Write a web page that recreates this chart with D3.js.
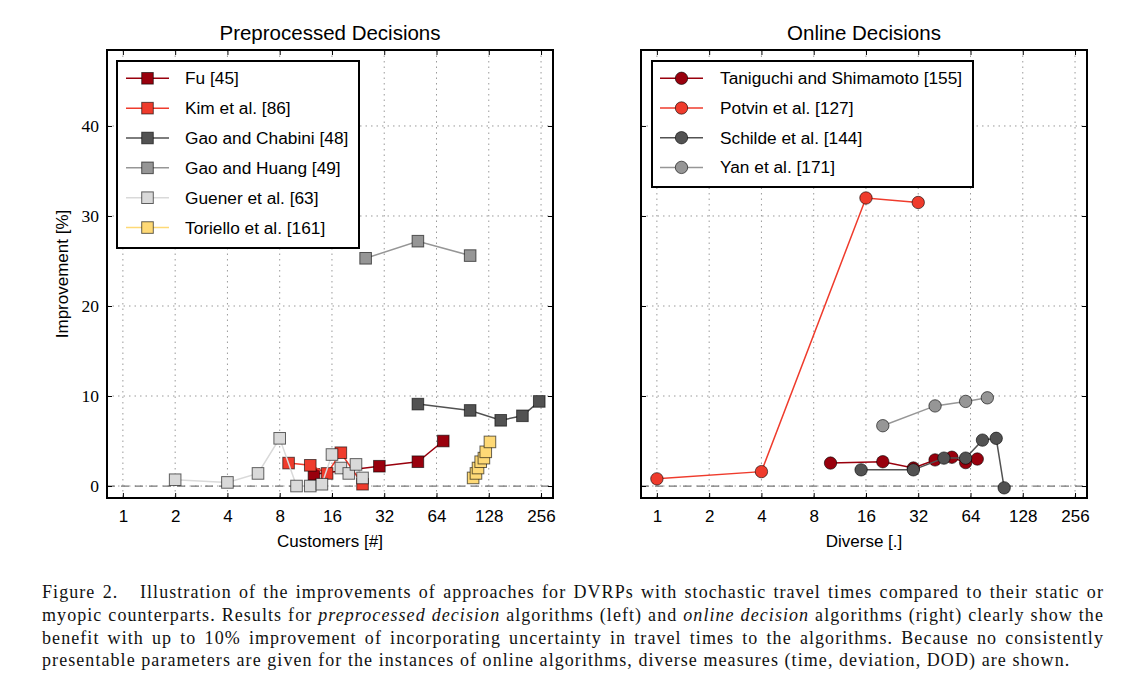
<!DOCTYPE html>
<html>
<head>
<meta charset="utf-8">
<script src="https://cdn.jsdelivr.net/npm/d3@7/dist/d3.min.js"></script>
<style>
  html, body { margin: 0; padding: 0; background: #fff; }
  #wrap { position: relative; width: 1140px; height: 683px; overflow: hidden; }
  svg { position: absolute; left: 0; top: 0; }
  #caption { position: absolute; left: 42px; top: 581px; width: 1062px;
    font-family: "Liberation Serif", "DejaVu Serif", serif; font-size: 18px; letter-spacing: 1.07px; color: #111; }
  #caption div { white-space: nowrap; text-align: justify; text-align-last: justify; line-height: 22.8px; }
  #caption div.last { text-align-last: left; }
</style>
</head>
<body>
<div id="wrap">
<svg id="chart" width="1140" height="683"></svg>
<div id="caption"></div>
</div>
<script>
// ---------- data ----------
const xTicks = [1, 2, 4, 8, 16, 32, 64, 128, 256];
const yTicks = [0, 10, 20, 30, 40];

// Preprocessed decisions
const fuX = [12.6, 30, 50, 70];
const fuY = [1.3, 2.2, 2.7, 5.0];
const kimX = [9, 12, 15, 18, 24];
const kimY = [2.55, 2.3, 1.4, 3.7, 0.2];
const chabiniX = [50, 100, 150, 200, 250];
const chabiniY = [9.1, 8.4, 7.3, 7.8, 9.4];
const huangX = [25, 50, 100];
const huangY = [25.3, 27.2, 25.6];
const guenerX = [2, 4, 6, 8, 10, 12, 14, 16, 18, 20, 22, 24];
const guenerY = [0.7, 0.4, 1.4, 5.3, 0.0, 0.0, 0.2, 3.5, 2.0, 1.4, 2.4, 0.9];
const torielloX = [104, 108, 111, 115, 120, 123, 130];
const torielloY = [0.9, 1.4, 2.0, 2.7, 3.1, 3.8, 4.9];

// Online decisions
const taniX = [10, 20, 30, 40, 50, 60, 70];
const taniY = [2.55, 2.7, 2.0, 2.9, 3.2, 2.6, 3.0];
const potvinX = [1, 4, 16, 32];
const potvinY = [0.8, 1.6, 32.0, 31.5];
const schildeX = [15, 30, 45, 60, 75, 90, 100];
const schildeY = [1.8, 1.8, 3.1, 3.1, 5.1, 5.3, -0.2];
const yanX = [20, 40, 60, 80];
const yanY = [6.7, 8.9, 9.4, 9.8];

const leftSeries = [
  {name: "Fu [45]", color: "#99000d", xs: fuX, ys: fuY},
  {name: "Kim et al. [86]", color: "#ef3b2c", xs: kimX, ys: kimY},
  {name: "Gao and Chabini [48]", color: "#525252", xs: chabiniX, ys: chabiniY},
  {name: "Gao and Huang [49]", color: "#969696", xs: huangX, ys: huangY},
  {name: "Guener et al. [63]", color: "#d9d9d9", xs: guenerX, ys: guenerY},
  {name: "Toriello et al. [161]", color: "#fed976", xs: torielloX, ys: torielloY}
];
const rightSeries = [
  {name: "Taniguchi and Shimamoto [155]", color: "#99000d", xs: taniX, ys: taniY},
  {name: "Potvin et al. [127]", color: "#ef3b2c", xs: potvinX, ys: potvinY},
  {name: "Schilde et al. [144]", color: "#525252", xs: schildeX, ys: schildeY},
  {name: "Yan et al. [171]", color: "#969696", xs: yanX, ys: yanY}
];

const captionLines = [
  "Figure 2.&nbsp;&nbsp; Illustration of the improvements of approaches for DVRPs with stochastic travel times compared to their static or",
  "myopic counterparts. Results for <i>preprocessed decision</i> algorithms (left) and <i>online decision</i> algorithms (right) clearly show the",
  "benefit with up to 10% improvement of incorporating uncertainty in travel times to the algorithms. Because no consistently",
  "presentable parameters are given for the instances of online algorithms, diverse measures (time, deviation, DOD) are shown."
];

// ---------- drawing ----------
const svg = d3.select("#chart");
const SANS = "'Liberation Sans', Arial, Helvetica, sans-serif";
const SERIF = "'Liberation Serif', 'DejaVu Serif', serif";

function panel(opts) {
  const {x0, x1, y0, y1, series, title, xlabel, marker, showYLabels, legend} = opts;
  const x = d3.scaleLog().base(2).domain([0.81, 300]).range([x0, x1]);
  const y = d3.scaleLinear().domain([-1.33, 48.44]).range([y1, y0]);
  const g = svg.append("g");

  // grid
  g.selectAll(".gx").data(xTicks).enter().append("line")
    .attr("x1", d => x(d)).attr("x2", d => x(d)).attr("y1", y0).attr("y2", y1)
    .attr("stroke", "#9a9a9a").attr("stroke-width", 1).attr("stroke-dasharray", "1.5,4");
  g.selectAll(".gy").data(yTicks).enter().append("line")
    .attr("x1", x0).attr("x2", x1).attr("y1", d => y(d)).attr("y2", d => y(d))
    .attr("stroke", "#9a9a9a").attr("stroke-width", 1).attr("stroke-dasharray", "1.5,4");
  // zero line
  g.append("line").attr("x1", x0).attr("x2", x1).attr("y1", y(0)).attr("y2", y(0))
    .attr("stroke", "#777").attr("stroke-width", 1.2).attr("stroke-dasharray", "8,6");

  // axes via d3 axis (inward ticks)
  const bottom = g.append("g").attr("transform", `translate(0,${y1})`)
    .call(d3.axisBottom(x).tickValues(xTicks).tickFormat(d3.format("d")).tickSizeInner(-5).tickSizeOuter(0).tickPadding(12));
  const top = g.append("g").attr("transform", `translate(0,${y0})`)
    .call(d3.axisTop(x).tickValues(xTicks).tickFormat("").tickSizeInner(-5).tickSizeOuter(0));
  const left = g.append("g").attr("transform", `translate(${x0},0)`)
    .call(d3.axisLeft(y).tickValues(yTicks).tickFormat(showYLabels ? d3.format("d") : "").tickSizeInner(-5).tickSizeOuter(0).tickPadding(8));
  const right = g.append("g").attr("transform", `translate(${x1},0)`)
    .call(d3.axisRight(y).tickValues(yTicks).tickFormat("").tickSizeInner(-5).tickSizeOuter(0));
  [bottom, top, left, right].forEach(a => {
    a.select(".domain").remove();
    a.selectAll(".tick line").attr("stroke", "#000").attr("stroke-width", 1);
  });
  bottom.selectAll("text").attr("font-family", SANS).attr("font-size", 17).attr("fill", "#000");
  left.selectAll("text").attr("font-family", SERIF).attr("font-size", 17.5).attr("fill", "#000");

  // series
  const clip = "clip" + x0;
  svg.append("clipPath").attr("id", clip).append("rect")
    .attr("x", x0).attr("y", y0).attr("width", x1 - x0).attr("height", y1 - y0);
  const plot = g.append("g").attr("clip-path", `url(#${clip})`);
  const line = d3.line().x(d => x(d[0])).y(d => y(d[1]));
  series.forEach(s => {
    const pts = s.xs.map((v, i) => [v, s.ys[i]]);
    const sg = plot.append("g");
    sg.append("path").attr("d", line(pts)).attr("fill", "none")
      .attr("stroke", s.color).attr("stroke-width", 1.5);
    drawMarkers(sg, pts.map(p => [x(p[0]), y(p[1])]), s.color, marker);
  });

  // frame
  g.append("rect").attr("x", x0).attr("y", y0).attr("width", x1 - x0).attr("height", y1 - y0)
    .attr("fill", "none").attr("stroke", "#000").attr("stroke-width", 2);

  // title & label
  g.append("text").attr("x", (x0 + x1) / 2).attr("y", 40).attr("text-anchor", "middle")
    .attr("font-family", SANS).attr("font-size", 20.5).text(title);
  g.append("text").attr("x", (x0 + x1) / 2).attr("y", 547).attr("text-anchor", "middle")
    .attr("font-family", SANS).attr("font-size", 17).text(xlabel);

  // legend
  const L = legend;
  const lg = g.append("g");
  lg.append("rect").attr("x", L.x).attr("y", L.y).attr("width", L.w).attr("height", L.h)
    .attr("fill", "#fff").attr("stroke", "#000").attr("stroke-width", 2);
  series.forEach((s, i) => {
    const cy = L.firstY + i * L.step;
    lg.append("line").attr("x1", L.lx0).attr("x2", L.lx1).attr("y1", cy).attr("y2", cy)
      .attr("stroke", s.color).attr("stroke-width", 1.5);
    drawMarkers(lg, [[(L.lx0 + L.lx1) / 2, cy]], s.color, marker);
    lg.append("text").attr("x", L.tx).attr("y", cy + 6).attr("font-family", SANS)
      .attr("font-size", 17.3).text(s.name);
  });
}

function drawMarkers(g, pts, color, marker) {
  if (marker === "square") {
    g.selectAll(null).data(pts).enter().append("rect")
      .attr("x", d => d[0] - 5.8).attr("y", d => d[1] - 5.8).attr("width", 11.6).attr("height", 11.6)
      .attr("fill", color).attr("stroke", "rgba(0,0,0,0.6)").attr("stroke-width", 1);
  } else {
    g.selectAll(null).data(pts).enter().append("circle")
      .attr("cx", d => d[0]).attr("cy", d => d[1]).attr("r", 6.2)
      .attr("fill", color).attr("stroke", "rgba(0,0,0,0.6)").attr("stroke-width", 1);
  }
}

panel({x0: 107, x1: 553, y0: 50, y1: 498, series: leftSeries, title: "Preprocessed Decisions",
  xlabel: "Customers [#]", marker: "square", showYLabels: true,
  legend: {x: 117, y: 61, w: 242, h: 187, firstY: 78.3, step: 29.85, lx0: 126, lx1: 169, tx: 185}});
panel({x0: 641, x1: 1087, y0: 50, y1: 498, series: rightSeries, title: "Online Decisions",
  xlabel: "Diverse [.]", marker: "circle", showYLabels: false,
  legend: {x: 652, y: 61, w: 321, h: 126, firstY: 78.3, step: 29.7, lx0: 660, lx1: 703, tx: 720}});

// y axis label
svg.append("text").attr("transform", "translate(68,274) rotate(-90)").attr("text-anchor", "middle")
  .attr("font-family", SANS).attr("font-size", 17).text("Improvement [%]");

// caption
d3.select("#caption").selectAll("div").data(captionLines).enter().append("div")
  .attr("class", (d, i) => i === captionLines.length - 1 ? "last" : null)
  .html(d => d);
</script>
</body>
</html>
